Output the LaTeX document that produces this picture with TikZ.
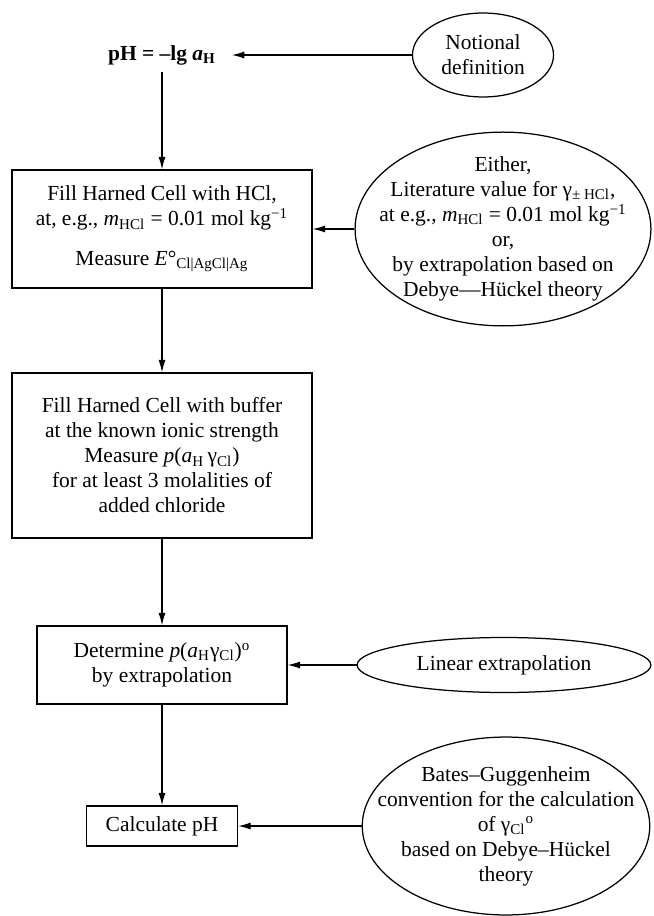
\documentclass[tikz,border=0pt]{standalone}
\usepackage{fontspec}
\setmainfont{Liberation Serif}
\usetikzlibrary{arrows.meta,shapes.geometric}
\newcommand{\figfont}{\fontsize{10.3}{12}\selectfont}

\begin{document}
\begin{tikzpicture}[
    x=0.48pt, y=-0.48pt,
    line width=0.6pt,
    box/.style={draw, rectangle, align=center, inner sep=0pt, font=\figfont},
    oval/.style={draw, ellipse, align=center, inner sep=-40pt, font=\figfont},
    arr/.style={-{Latex[length=6pt,width=3.4pt]}},
  ]
  \useasboundingbox (0,0) rectangle (653,916);

  % Main column
  \node[font=\figfont\bfseries] (ph) at (162,55) {pH = --lg \textit{a}\textsubscript{H}};
  \node[box, minimum width=144pt, minimum height=56.6pt] (harned) at (162,229)
    {Fill Harned Cell with HCl,\\ at, e.g., \textit{m}\textsubscript{HCl} = 0.01 mol kg\textsuperscript{−1}\\[7pt]
     Measure \textit{E}°\textsubscript{Cl|AgCl|Ag}};
  \node[box, minimum width=144pt, minimum height=79.2pt] (buffer) at (162,455.5)
    {Fill Harned Cell with buffer\\ at the known ionic strength\\ Measure \textit{p}(\textit{a}\textsubscript{H}\,γ\textsubscript{Cl})\\
     for at least 3 molalities of\\ added chloride};
  \node[box, minimum width=120pt, minimum height=37.4pt] (determine) at (162,665)
    {Determine \textit{p}(\textit{a}\textsubscript{H}γ\textsubscript{Cl})\textsuperscript{o}\\ by extrapolation};
  \node[box, minimum width=72.5pt, minimum height=19.2pt] (calc) at (162,826) {Calculate pH};

  % Side inputs
  \node[oval, minimum width=67.7pt, minimum height=40.3pt] (notional) at (483,55) {Notional\\ definition};
  \node[oval, minimum width=142pt, minimum height=93pt] (either) at (503,229)
    {Either,\\ Literature value for γ\textsubscript{± HCl},\\ at e.g., \textit{m}\textsubscript{HCl} = 0.01 mol kg\textsuperscript{−1}\\
     or,\\ by extrapolation based on\\ Debye---Hückel theory};
  \node[oval, minimum width=141pt, minimum height=26.4pt] (linear) at (504,665) {Linear extrapolation};
  \node[oval, minimum width=138pt, minimum height=85.4pt] (bates) at (506,826)
    {Bates--Guggenheim\\ convention for the calculation\\ of γ\textsubscript{Cl}\textsuperscript{o}\\ based on Debye--Hückel\\ theory};

  % Connectors
  \draw[arr, shorten >=4pt] (notional) -- (ph);
  \draw[arr] (ph.south) -- (ph.south |- harned.north);
  \draw[arr] (harned) -- (buffer);
  \draw[arr] (buffer) -- (determine);
  \draw[arr] (determine) -- (calc);
  \draw[arr] (either) -- (harned);
  \draw[arr] (linear) -- (determine);
  \draw[arr] (bates) -- (calc);
\end{tikzpicture}
\end{document}
